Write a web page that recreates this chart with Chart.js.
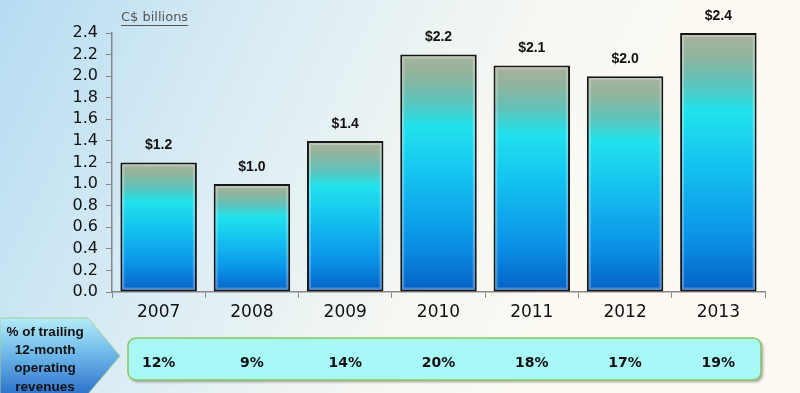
<!DOCTYPE html>
<html>
<head>
<meta charset="utf-8">
<script src="https://cdn.jsdelivr.net/npm/chart.js@4/dist/chart.umd.min.js"></script>
<style>
  html, body { margin: 0; padding: 0; }
  #wrap {
    width: 800px; height: 393px; position: relative;
    background: linear-gradient(115deg, #b6dcf2 0%, #dcedf4 30%, #f5f7f2 55%, #fdfaf3 75%, #fdfaf3 100%);
  }
  canvas { display: block; }
</style>
</head>
<body>
<div id="wrap"><canvas id="grafico" width="800" height="393"></canvas></div>
<script>
const anos = ['2007', '2008', '2009', '2010', '2011', '2012', '2013']
const valores = [1.2, 1.0, 1.4, 2.2, 2.1, 2.0, 2.4]
const percentuais = ['12%', '9%', '14%', '20%', '18%', '17%', '19%']
const textoSeta = ['% of trailing', '12-month', 'operating', 'revenues']
const unidade = 'C$ billions'

function gradienteBarra(c) {
    const chart = c.chart
    if (!chart.chartArea || !chart.scales.y) return '#18b8e8'
    const y = chart.scales.y
    const topo = y.getPixelForValue(c.raw)
    const base = y.getPixelForValue(0)
    const g = chart.ctx.createLinearGradient(0, topo, 0, base)
    g.addColorStop(0, '#a8b29e')
    g.addColorStop(0.08, '#94b39c')
    g.addColorStop(0.2, '#5cc4bc')
    g.addColorStop(0.3, '#22e2ec')
    g.addColorStop(0.5, '#14c4f0')
    g.addColorStop(0.8, '#0a90e6')
    g.addColorStop(1, '#0660c4')
    return g
}

const extras = {
    id: 'extras',
    beforeDraw(chart) {
        const ctx = chart.ctx
        const x = chart.scales.x
        ctx.save()
        // seta da esquerda
        ctx.beginPath()
        ctx.moveTo(0, 318)
        ctx.lineTo(88, 318)
        ctx.lineTo(120, 356)
        ctx.lineTo(88, 394)
        ctx.lineTo(0, 394)
        ctx.closePath()
        const gs = ctx.createLinearGradient(0, 318, 0, 393)
        gs.addColorStop(0, '#b4ecf8')
        gs.addColorStop(0.45, '#72bcea')
        gs.addColorStop(1, '#2f74cc')
        ctx.fillStyle = gs
        ctx.fill()
        ctx.strokeStyle = '#a8cc98'
        ctx.lineWidth = 1
        ctx.stroke()
        ctx.fillStyle = '#111'
        ctx.font = 'bold 13.5px "Liberation Sans", Arial, sans-serif'
        ctx.textAlign = 'center'
        ctx.textBaseline = 'middle'
        textoSeta.forEach((t, i) => ctx.fillText(t, 45, 332 + i * 18.3))

        // caixa dos percentuais
        ctx.shadowColor = 'rgba(0,0,0,0.35)'
        ctx.shadowOffsetX = 2
        ctx.shadowOffsetY = 2
        ctx.shadowBlur = 3
        ctx.beginPath()
        ctx.roundRect(128, 338, 633, 42, 8)
        ctx.fillStyle = '#a8f8f8'
        ctx.fill()
        ctx.shadowColor = 'transparent'
        ctx.strokeStyle = '#8cc45c'
        ctx.lineWidth = 1.5
        ctx.stroke()
        ctx.fillStyle = '#111'
        ctx.font = 'bold 14px "DejaVu Sans", Verdana, sans-serif'
        percentuais.forEach((p, i) => ctx.fillText(p, x.getPixelForValue(i), 363))

        // unidade
        ctx.fillStyle = '#555'
        ctx.font = '13px "DejaVu Sans", Verdana, sans-serif'
        ctx.textAlign = 'left'
        ctx.fillText(unidade, 121, 18)
        const w = ctx.measureText(unidade).width
        ctx.fillRect(121, 25, w, 1)
        ctx.restore()
    },
    afterDatasetsDraw(chart) {
        const ctx = chart.ctx
        const meta = chart.getDatasetMeta(0)
        ctx.save()
        ctx.fillStyle = '#111'
        ctx.font = 'bold 14px "Liberation Sans", Arial, sans-serif'
        ctx.textAlign = 'center'
        ctx.textBaseline = 'bottom'
        meta.data.forEach((bar, i) => {
            // brilho interno
            const l = bar.x - bar.width / 2, t = bar.y
            ctx.strokeStyle = 'rgba(255,255,255,0.25)'
            ctx.lineWidth = 2
            ctx.strokeRect(l + 3, t + 3, bar.width - 6, bar.base - t - 6)
            ctx.fillText('$' + valores[i].toFixed(1), bar.x, bar.y - 10)
        })
        ctx.restore()
    }
}

const grafico = new Chart(document.getElementById('grafico'), {
    type: 'bar',
    data: {
        labels: anos,
        datasets: [{
            label: 'C$ billions',
            data: valores,
            backgroundColor: gradienteBarra,
            borderColor: '#161616',
            borderWidth: 2,
            borderSkipped: false,
            barPercentage: 0.82,
            categoryPercentage: 1
        }]
    },
    options: {
        responsive: false,
        animation: false,
        layout: { padding: { top: 33, right: 35, left: 0, bottom: 0 } },
        plugins: { legend: { display: false }, tooltip: { enabled: false } },
        scales: {
            x: {
                offset: true,
                grid: { offset: true, drawOnChartArea: false, color: '#888', tickLength: 6 },
                border: { color: '#888', width: 1.5 },
                ticks: { color: '#111', font: { family: '"DejaVu Sans", Verdana, sans-serif', size: 17 }, padding: 4 },
                afterFit(s) { s.height = 101 }
            },
            y: {
                min: 0,
                max: 2.4,
                grid: { drawOnChartArea: false, color: '#888', tickLength: 6 },
                border: { color: '#888', width: 1.5 },
                ticks: {
                    stepSize: 0.2,
                    autoSkip: false,
                    color: '#111',
                    font: { family: '"DejaVu Sans", Verdana, sans-serif', size: 16 },
                    padding: 8,
                    callback: v => v.toFixed(1)
                },
                afterFit(s) { s.width = 112 }
            }
        }
    },
    plugins: [extras]
})
</script>
</body>
</html>
